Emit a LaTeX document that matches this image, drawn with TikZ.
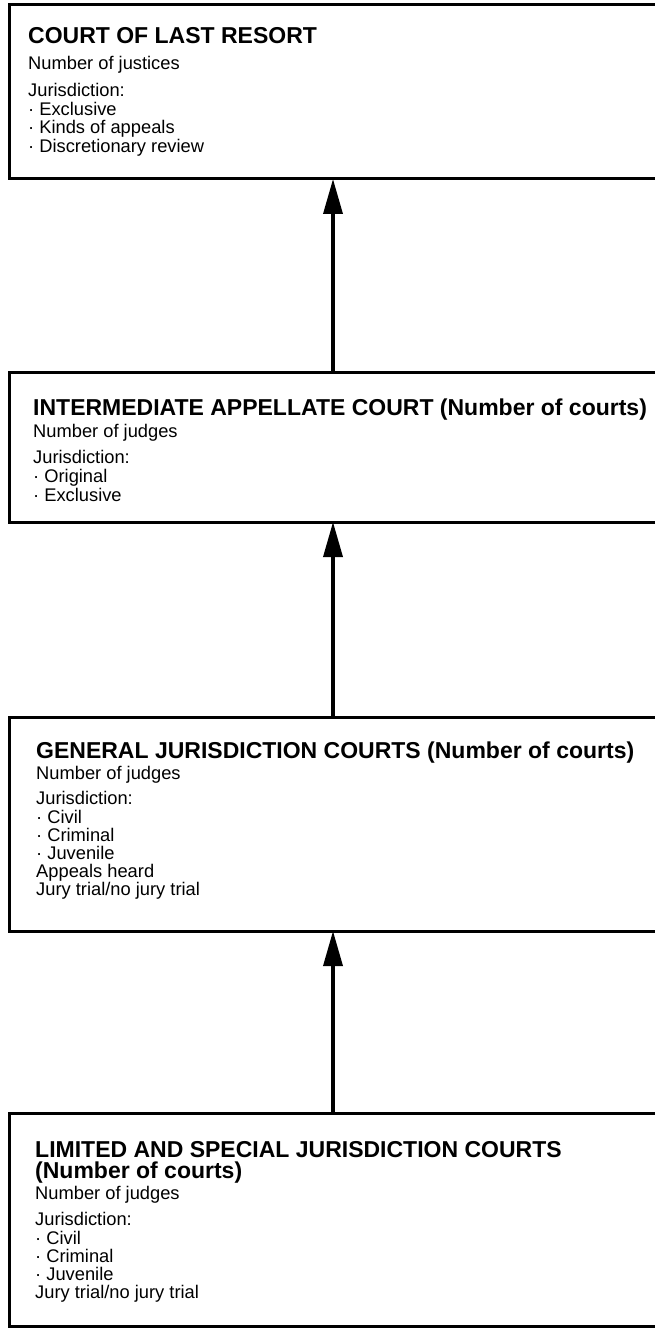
\documentclass[tikz,border=0pt]{standalone}
\usepackage{fontspec}
\setmainfont{Liberation Sans}
\usetikzlibrary{arrows.meta}
\begin{document}
\begin{tikzpicture}[x=1pt,y=-1pt,
  box/.style={draw, line width=3pt, anchor=north west, minimum width=648pt, inner sep=0pt, outer sep=0pt},
  ttl/.style={anchor=base west, inner sep=0pt, font=\fontsize{23}{23}\selectfont\bfseries},
  txt/.style={anchor=base west, inner sep=0pt, font=\fontsize{18.3}{18.3}\selectfont},
  arr/.style={line width=3.5pt, -{Triangle[length=35pt,width=19pt]}}]
\useasboundingbox (0,0) rectangle (655,1329);
\fill[white] (0,0) rectangle (655,1329);
\clip (0,0) rectangle (655,1329);
% boxes
\node[box, minimum height=174pt] (B1) at (9,5) {};
\node[box, minimum height=150pt] (B2) at (9,372) {};
\node[box, minimum height=214pt] (B3) at (9,717) {};
\node[box, minimum height=213pt] (B4) at (9,1113) {};
% box 1 text
\node[ttl] (t1) at (28,44) {COURT OF LAST RESORT};
\node[txt] (t1a) at (28,70) {Number of justices};
\node[txt] (t1b) at (28,97) {Jurisdiction:};
\node[txt] (t1c) at (28,116) {· Exclusive};
\node[txt] (t1d) at (28,134) {· Kinds of appeals};
\node[txt] (t1e) at (28,153) {· Discretionary review};
% box 2 text
\node[ttl] (t2) at (33,415) {INTERMEDIATE APPELLATE COURT (Number of courts)};
\node[txt] (t2a) at (33,437) {Number of judges};
\node[txt] (t2b) at (33,463) {Jurisdiction:};
\node[txt] (t2c) at (33,482) {· Original};
\node[txt] (t2d) at (33,501) {· Exclusive};
% box 3 text
\node[ttl] (t3) at (36,758) {GENERAL JURISDICTION COURTS (Number of courts)};
\node[txt] (t3a) at (36,779) {Number of judges};
\node[txt] (t3b) at (36,804) {Jurisdiction:};
\node[txt] (t3c) at (36,823) {· Civil};
\node[txt] (t3d) at (36,841) {· Criminal};
\node[txt] (t3e) at (36,859) {· Juvenile};
\node[txt] (t3f) at (36,877) {Appeals heard};
\node[txt] (t3g) at (36,895) {Jury trial/no jury trial};
% box 4 text
\node[ttl] (t4) at (35,1157) {LIMITED AND SPECIAL JURISDICTION COURTS};
\node[ttl] (t4x) at (35,1178) {(Number of courts)};
\node[txt] (t4a) at (35,1199) {Number of judges};
\node[txt] (t4b) at (35,1225) {Jurisdiction:};
\node[txt] (t4c) at (35,1244) {· Civil};
\node[txt] (t4d) at (35,1262) {· Criminal};
\node[txt] (t4e) at (35,1280) {· Juvenile};
\node[txt] (t4f) at (35,1298) {Jury trial/no jury trial};
% arrows
\draw[arr] (B2.north) -- (B1.south);
\draw[arr] (B3.north) -- (B2.south);
\draw[arr] (B4.north) -- (B3.south);
\end{tikzpicture}
\end{document}
